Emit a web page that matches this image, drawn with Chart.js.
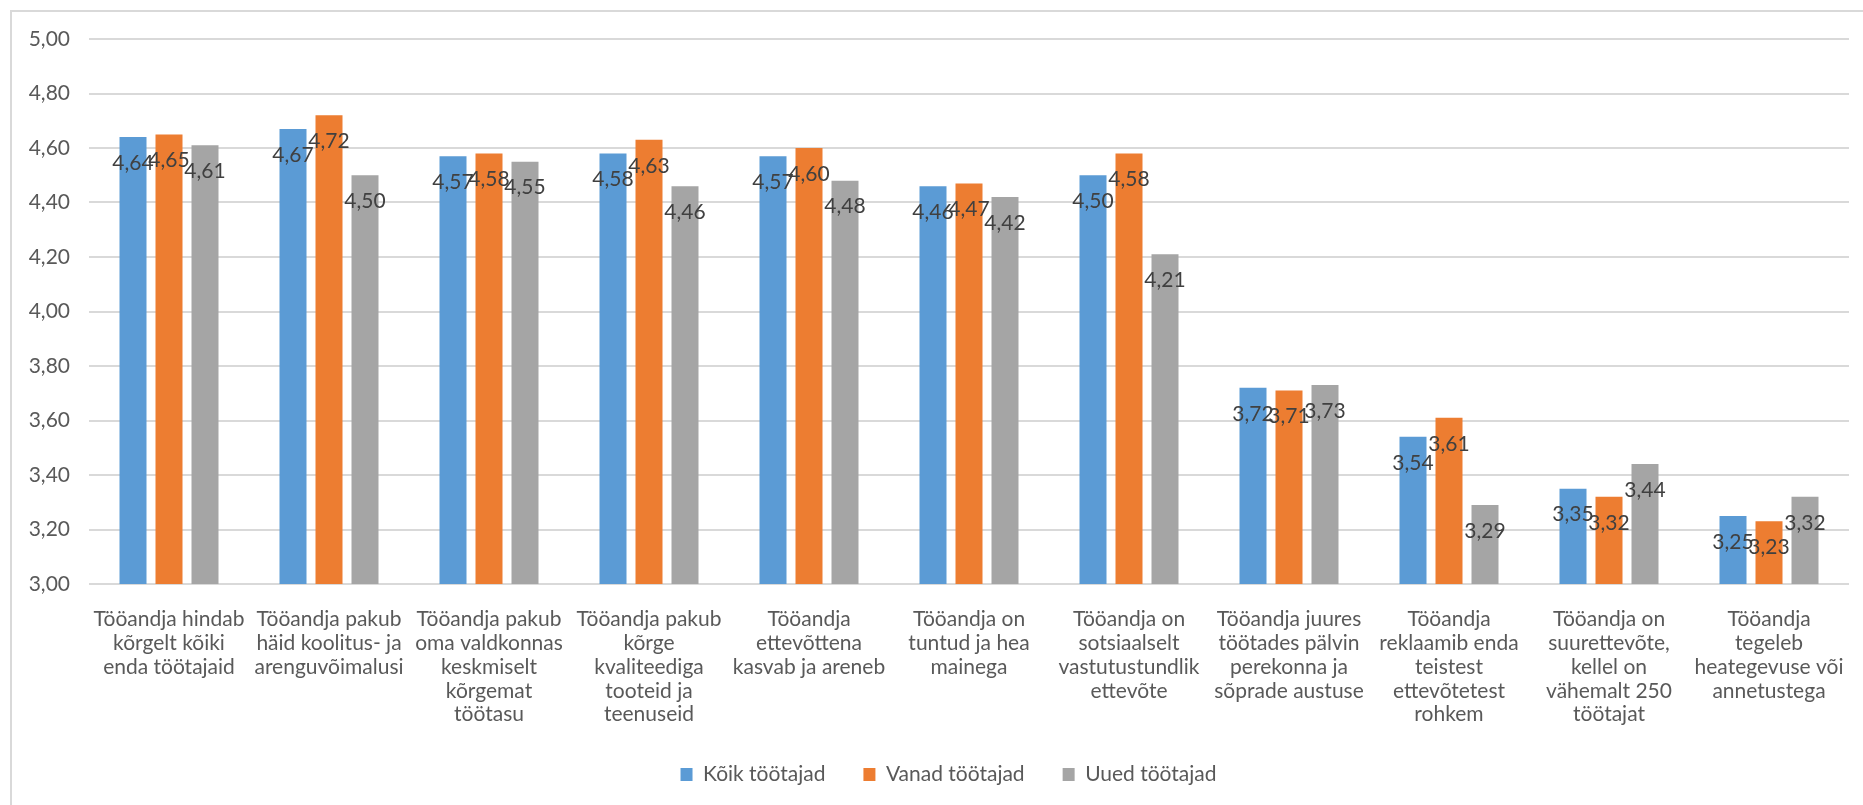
<!DOCTYPE html>
<html lang="et">
<head>
<meta charset="utf-8">
<title>Tööandja hinnangud</title>
<script src="https://cdn.jsdelivr.net/npm/chart.js@4.4.1/dist/chart.umd.min.js"></script>
<style>
    html, body { margin: 0; padding: 0; background: #fff; overflow: hidden; }
    .chart-box { position: relative; width: 1863px; height: 805px; }
</style>
</head>
<body>
<div class="chart-box"><canvas id="chart"></canvas></div>
<script>
const categories = [
    ['Tööandja hindab', 'kõrgelt kõiki', 'enda töötajaid'],
    ['Tööandja pakub', 'häid koolitus- ja', 'arenguvõimalusi'],
    ['Tööandja pakub', 'oma valdkonnas', 'keskmiselt', 'kõrgemat', 'töötasu'],
    ['Tööandja pakub', 'kõrge', 'kvaliteediga', 'tooteid ja', 'teenuseid'],
    ['Tööandja', 'ettevõttena', 'kasvab ja areneb'],
    ['Tööandja on', 'tuntud ja hea', 'mainega'],
    ['Tööandja on', 'sotsiaalselt', 'vastutustundlik', 'ettevõte'],
    ['Tööandja juures', 'töötades pälvin', 'perekonna ja', 'sõprade austuse'],
    ['Tööandja', 'reklaamib enda', 'teistest', 'ettevõtetest', 'rohkem'],
    ['Tööandja on', 'suurettevõte,', 'kellel on', 'vähemalt 250', 'töötajat'],
    ['Tööandja', 'tegeleb', 'heategevuse või', 'annetustega']
];

const koikTootajad = [4.64, 4.67, 4.57, 4.58, 4.57, 4.46, 4.50, 3.72, 3.54, 3.35, 3.25];
const vanadTootajad = [4.65, 4.72, 4.58, 4.63, 4.60, 4.47, 4.58, 3.71, 3.61, 3.32, 3.23];
const uuedTootajad = [4.61, 4.50, 4.55, 4.46, 4.48, 4.42, 4.21, 3.73, 3.29, 3.44, 3.32];

const yTicks = [3.0, 3.2, 3.4, 3.6, 3.8, 4.0, 4.2, 4.4, 4.6, 4.8, 5.0];

const FONT = 'Lato, "Open Sans", sans-serif';
const fmt = v => Number(v).toFixed(2).replace('.', ',');

// white background + the frame line on the left and top
const frame = {
    id: 'frame',
    beforeDraw(chart) {
        const { ctx, width, height } = chart;
        ctx.save();
        ctx.fillStyle = '#fff';
        ctx.fillRect(0, 0, width, height);
        ctx.strokeStyle = '#d9d9d9';
        ctx.lineWidth = 2;
        ctx.beginPath();
        ctx.moveTo(11, height);
        ctx.lineTo(11, 11);
        ctx.lineTo(width, 11);
        ctx.stroke();
        ctx.restore();
    }
};

// legend sits centred under the plot, not under the whole canvas
const legendShift = {
    id: 'legendShift',
    afterLayout(chart) {
        const lg = chart.legend;
        if (!lg) return;
        lg.left += 24;
        lg.right += 24;
    }
};

// value labels just below the top of each bar
const barValues = {
    id: 'barValues',
    afterDatasetsDraw(chart) {
        const { ctx } = chart;
        ctx.save();
        ctx.font = '21px ' + FONT;
        ctx.fillStyle = '#404040';
        ctx.textAlign = 'center';
        ctx.textBaseline = 'middle';
        chart.data.datasets.forEach((ds, i) => {
            chart.getDatasetMeta(i).data.forEach((bar, j) => {
                ctx.fillText(fmt(ds.data[j]), bar.x, bar.y + 26);
            });
        });
        ctx.restore();
    }
};

const ctx = document.getElementById('chart').getContext('2d');

new Chart(ctx, {
    type: 'bar',
    data: {
        labels: categories,
        datasets: [
            { label: 'Kõik töötajad', data: koikTootajad, backgroundColor: '#5b9bd5' },
            { label: 'Vanad töötajad', data: vanadTootajad, backgroundColor: '#ed7d31' },
            { label: 'Uued töötajad', data: uuedTootajad, backgroundColor: '#a5a5a5' }
        ]
    },
    options: {
        responsive: true,
        maintainAspectRatio: false,
        animation: false,
        layout: {
            padding: { top: 39, left: 0, right: 14, bottom: 10 }
        },
        datasets: {
            bar: {
                categoryPercentage: 0.675,
                barPercentage: 0.75
            }
        },
        plugins: {
            legend: {
                position: 'bottom',
                labels: {
                    color: '#595959',
                    boxWidth: 12,
                    boxHeight: 13,
                    padding: 38,
                    font: { family: FONT, size: 21 }
                }
            },
            tooltip: { enabled: false }
        },
        scales: {
            x: {
                grid: { display: false },
                border: { display: false },
                ticks: {
                    color: '#595959',
                    padding: 15,
                    maxRotation: 0,
                    minRotation: 0,
                    autoSkip: false,
                    font: { family: FONT, size: 21, lineHeight: 1.14 }
                },
                afterFit(scale) {
                    scale.height = 142;
                }
            },
            y: {
                min: 3,
                max: 5,
                grid: {
                    color: '#d9d9d9',
                    lineWidth: 2,
                    drawTicks: false
                },
                border: { display: false },
                afterBuildTicks(scale) {
                    scale.ticks = yTicks.map(v => ({ value: v }));
                },
                ticks: {
                    color: '#595959',
                    padding: 19,
                    font: { family: FONT, size: 21 },
                    callback: value => fmt(value)
                },
                afterFit(scale) {
                    scale.width = 89;
                }
            }
        }
    },
    plugins: [frame, legendShift, barValues]
});
</script>
</body>
</html>
